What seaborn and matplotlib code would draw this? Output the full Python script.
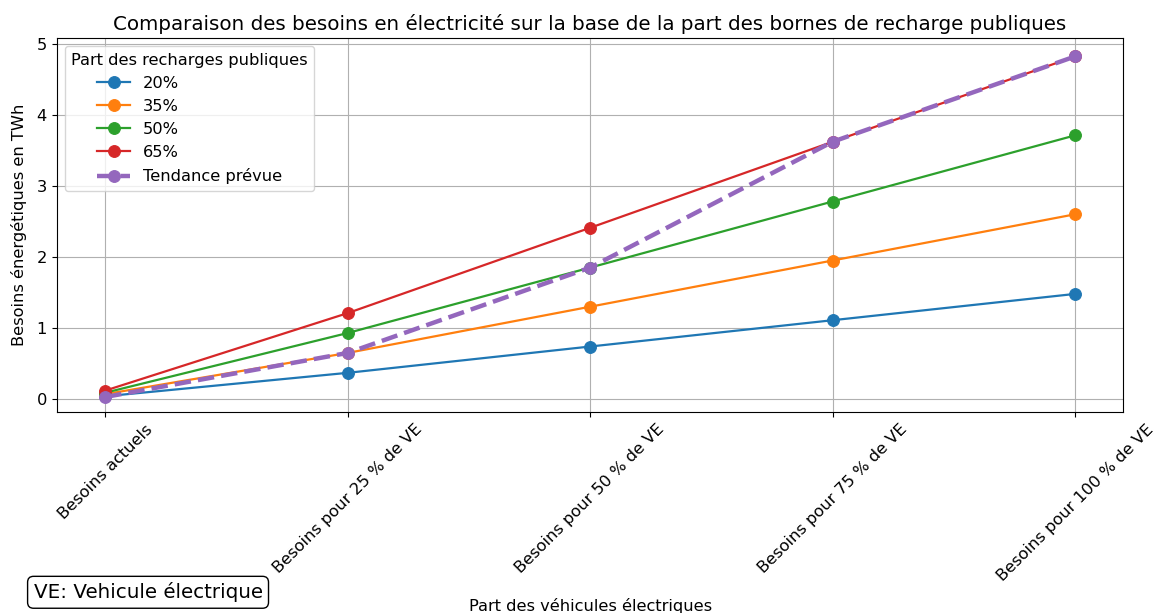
import matplotlib
matplotlib.use('Agg')
import matplotlib.pyplot as plt
import seaborn as sns
import pandas as pd

# Scenario labels (x axis)
scenarios = ['Besoins actuels', 'Besoins pour 25 % de VE', 'Besoins pour 50 % de VE',
             'Besoins pour 75 % de VE', 'Besoins pour 100 % de VE']

# Energy needs (TWh) per share of public charging
part_20 = [0.04, 0.37, 0.74, 1.11, 1.48]
part_35 = [0.07, 0.65, 1.30, 1.95, 2.60]
part_50 = [0.09, 0.93, 1.85, 2.78, 3.71]
part_65 = [0.12, 1.21, 2.41, 3.62, 4.82]
tendance = [0.03, 0.65, 1.85, 3.62, 4.82]

series = {'20%': part_20, '35%': part_35, '50%': part_50, '65%': part_65}
colors = ['#1f77b4', '#ff7f0e', '#2ca02c', '#d62728']

fig, ax = plt.subplots(figsize=(11.57, 6.13), dpi=100)
fig.subplots_adjust(left=0.049, right=0.971, top=0.938, bottom=0.328)

x = list(range(len(scenarios)))
for (label, vals), c in zip(series.items(), colors):
    df = pd.DataFrame({'x': x, 'y': vals})
    sns.lineplot(data=df, x='x', y='y', marker='o', markersize=8.5, color=c,
                 markeredgecolor=c, linewidth=1.6, label=label, ax=ax)

df_t = pd.DataFrame({'x': x, 'y': tendance})
sns.lineplot(data=df_t, x='x', y='y', marker='o', markersize=8.5, color='#9467bd',
             markeredgecolor='#9467bd', linewidth=3.2, linestyle='--',
             label='Tendance prévue', ax=ax)

ax.set_xticks(x)
ax.set_xticklabels(scenarios, rotation=45, fontsize=11.7)
ax.tick_params(axis='y', labelsize=11.7)
ax.set_xlim(-0.2, 4.2)
ax.set_ylim(-0.18, 5.08)
ax.grid(True)
ax.set_title("Comparaison des besoins en électricité sur la base de la part des bornes de recharge publiques",
             fontsize=14.3)
ax.set_xlabel('Part des véhicules électriques', fontsize=11.7, labelpad=10)
ax.set_ylabel('Besoins énergétiques en TWh', fontsize=11.7, labelpad=7)
ax.legend(title='Part des recharges publiques', loc='upper left', fontsize=11.7, title_fontsize=11.7)

fig.text(0.029, 0.024, 'VE: Vehicule électrique', fontsize=14.3,
         bbox=dict(boxstyle='round', facecolor='white', edgecolor='black'))

plt.savefig('out.png', dpi=100)
